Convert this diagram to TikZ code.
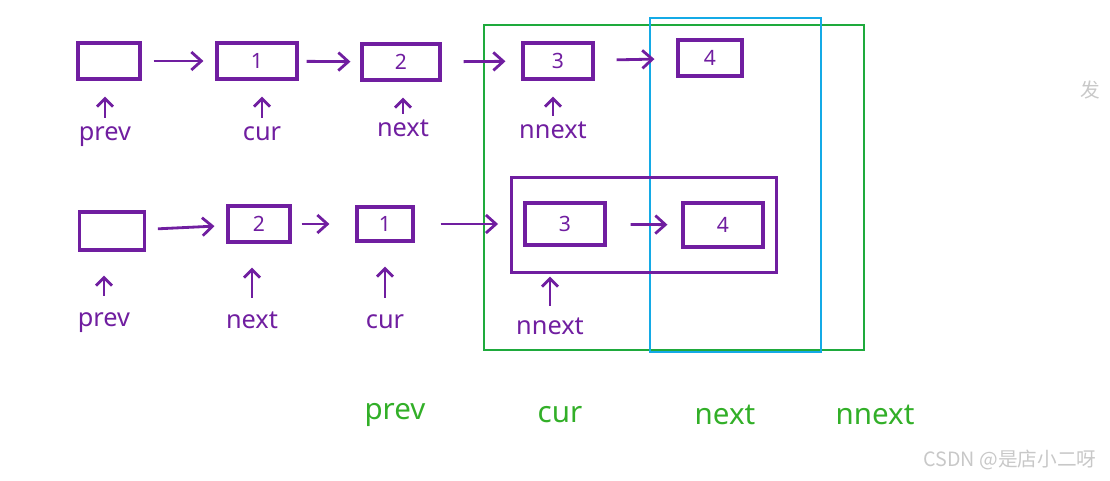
\documentclass[tikz,border=0pt]{standalone}
\usepackage{fontspec}
\setsansfont{Noto Sans}
\newfontfamily\cjk{Noto Sans CJK SC}
\usetikzlibrary{arrows.meta,fit}
\definecolor{ink}{RGB}{112,30,160}
\definecolor{pen}{RGB}{50,175,40}
\definecolor{frameg}{RGB}{30,170,60}
\definecolor{frameb}{RGB}{20,170,230}
\definecolor{wmgray}{RGB}{200,200,200}
\begin{document}
\begin{tikzpicture}[x=0.025cm,y=-0.025cm,font=\sffamily,
    listcell/.style={draw=ink,line width=2.2pt,minimum height=0.9cm,inner sep=0pt,
      text=ink,font=\sffamily\fontsize{15}{18}\selectfont},
    ptr/.style={text=ink,inner sep=1pt,text height=1.5ex,text depth=0.6ex,
      font=\sffamily\fontsize{18}{20}\selectfont},
    link/.style={draw=ink,line width=2pt,shorten <=0.3cm,shorten >=0.3cm,
      -{Straight Barb[length=2.5mm,width=4.5mm]}},
    up/.style={draw=ink,line width=2pt,-{Straight Barb[length=2mm,width=4mm]}},
    tag/.style={text=pen,font=\sffamily\fontsize{21}{24}\selectfont}]
    \useasboundingbox (0,0) rectangle (1110,480);
    % frames
    \draw[frameg,line width=1.3pt] (484,25) rectangle (864,350);
    \draw[frameb,line width=1.3pt] (650,18) rectangle (821,352);
    % first row
    \node[listcell,minimum width=1.55cm] (a0) at (109,61) {};
    \node[listcell,minimum width=2cm] (a1) at (257,61) {1};
    \node[listcell,minimum width=1.95cm] (a2) at (401,62) {2};
    \node[listcell,minimum width=1.75cm] (a3) at (558,61) {3};
    \node[listcell,minimum width=1.6cm] (a4) at (710,58) {4};
    \draw[link] (a0) -- (a1);
    \draw[link,shorten <=0.2cm,shorten >=0.25cm] (a1) -- (a2);
    \draw[link,shorten <=0.55cm,shorten >=0.4cm] (a2) -- (a3);
    \draw[link,shorten <=0.55cm,shorten >=0.55cm] (a3) -- (a4);
    \node[ptr] (p1) at (105,138) {prev};
    \node[ptr] (c1) at (262,138) {cur};
    \node[ptr] (n1) at (403,134) {next};
    \node[ptr] (nn1) at (553,136) {nnext};
    \foreach \l/\b in {p1/a0,c1/a1,n1/a2,nn1/a3}
      \draw[up,shorten <=0.3cm,shorten >=0.4cm] (\l.north) -- (\l.north |- \b.south);
    % second row
    \node[listcell,minimum width=1.62cm,minimum height=0.95cm] (b0) at (112,231) {};
    \node[listcell,minimum width=1.55cm] (b2) at (259,224) {2};
    \node[listcell,minimum width=1.4cm,minimum height=0.85cm] (b1) at (385,224) {1};
    \node[listcell,minimum width=2cm,minimum height=1.05cm] (b3) at (565,224) {3};
    \node[listcell,minimum width=2cm,minimum height=1.1cm] (b4) at (723,225) {4};
    \node[draw=ink,line width=2pt,inner xsep=0.3cm,inner ysep=0.6cm,fit=(b3)(b4)] (grp) {};
    \draw[link] (b0) -- (b2);
    \draw[link,shorten <=0.25cm,shorten >=0.65cm] (b2) -- (b1);
    \draw[link,shorten <=0.65cm,shorten >=0.3cm] (b1) -- (b1 -| grp.west);
    \draw[link,shorten <=0.6cm,shorten >=0.35cm] (b3) -- (b4);
    \node[ptr] (p2) at (104,324) {prev};
    \node[ptr] (n2) at (252,326) {next};
    \node[ptr] (c2) at (385,326) {cur};
    \node[ptr] (nn2) at (550,332) {nnext};
    \foreach \l/\b in {p2/b0,n2/b2,c2/b1}
      \draw[up,shorten <=0.5cm,shorten >=0.6cm] (\l.north) -- (\l.north |- \b.south);
    \draw[up,shorten <=0.45cm,shorten >=0.75cm] (nn2.north) -- (nn2.north |- b3.south);
    % green names
    \node[tag] (gp) at (395,415) {prev};
    \node[tag] (gc) at (560,415) {cur};
    \node[tag] (gn) at (725,415) {next};
    \node[tag] (gnn) at (875,415) {nnext};
    % watermarks
    \node[text=wmgray,font=\cjk\fontsize{14}{16}\selectfont] (wm) at (1010,460) {CSDN @是店小二呀};
    \node[text=wmgray,font=\cjk\fontsize{14}{16}\selectfont,anchor=west] (cut) at (1076,90) {发};
\end{tikzpicture}
\end{document}
